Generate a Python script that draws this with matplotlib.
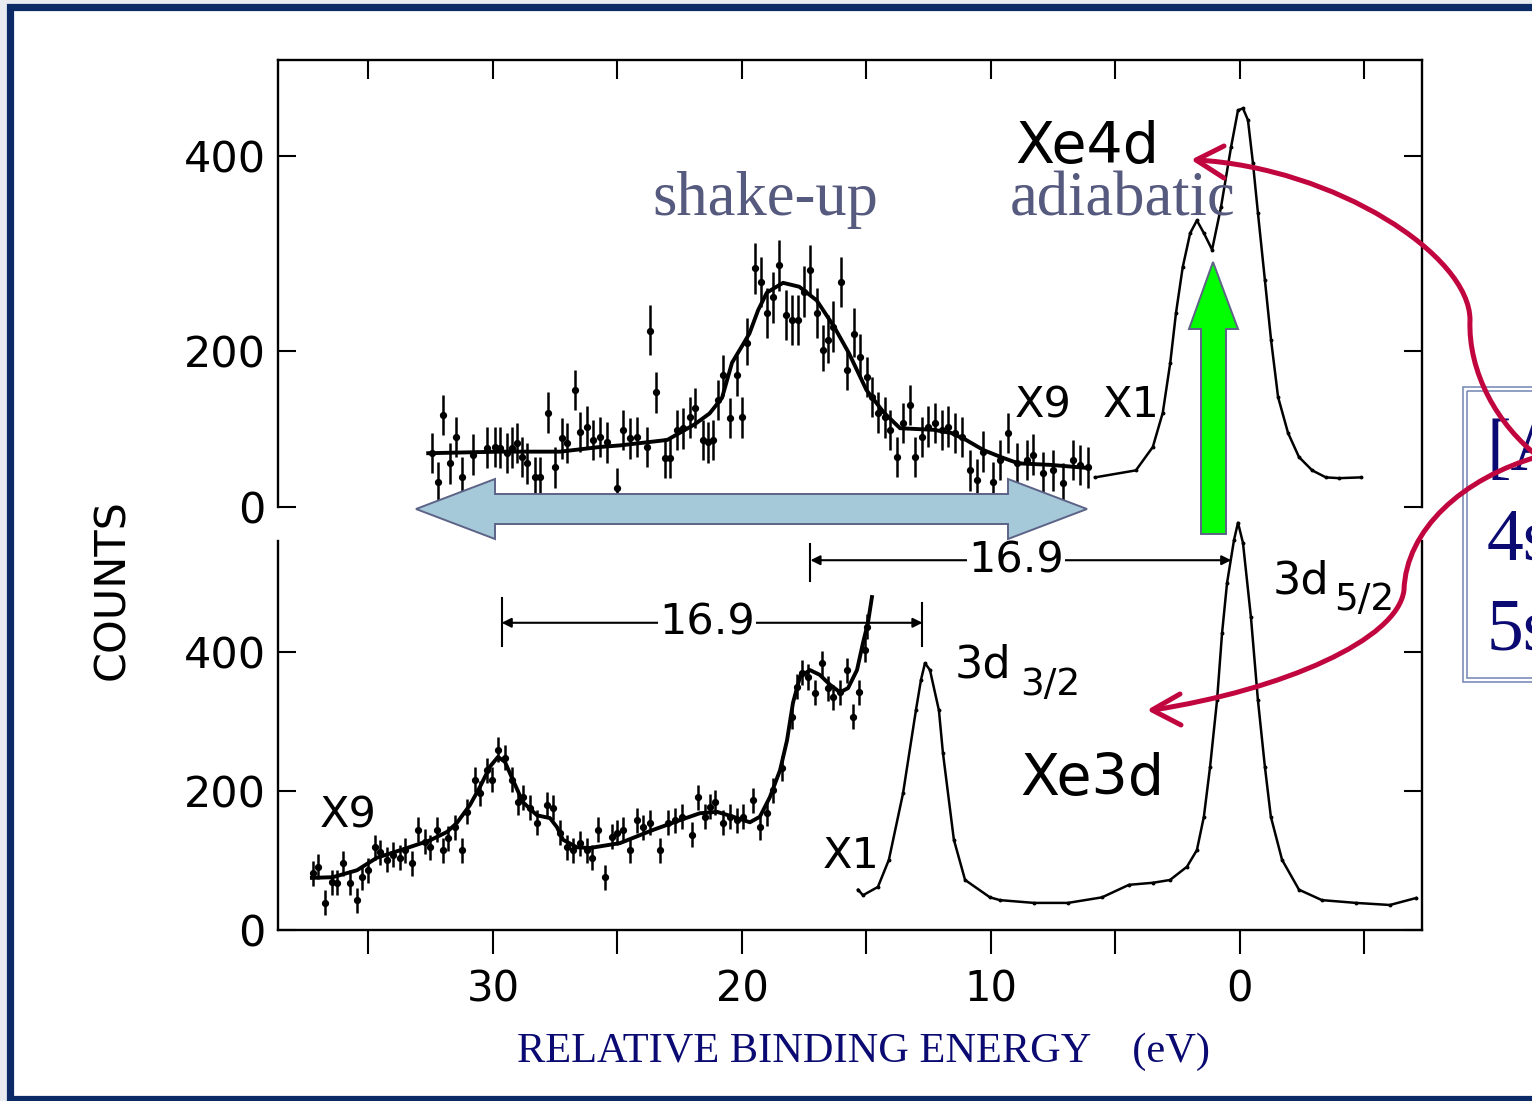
import numpy as np
import matplotlib.pyplot as plt
from matplotlib.patches import Rectangle, Polygon, PathPatch
from matplotlib.path import Path
from matplotlib.transforms import Affine2D

plt.rcParams['font.family'] = ['DejaVu Sans']

W, H = 1532, 1101

# ---------------- Xe 4d (upper panel) ----------------
# shake-up region, scaled x9, with error bars
xe4_sat_ev = [32.45, 32.21, 32.01, 31.73, 31.49, 31.24, 30.80, 30.24, 29.92, 29.72,
              29.44, 29.24, 29.04, 28.84, 28.63, 28.31, 28.11, 27.79, 27.51, 27.23,
              27.03, 26.71, 26.51, 26.22, 25.98, 25.70, 25.42, 25.02, 24.78, 24.50,
              24.22, 23.82, 23.69, 23.45, 23.09, 22.89, 22.61, 22.37, 22.09, 21.89,
              21.57, 21.37, 21.16, 20.96, 20.76, 20.48, 20.20, 20.00, 19.80, 19.48,
              19.24, 19.00, 18.76, 18.51, 18.23, 17.99, 17.75, 17.51, 17.27, 16.99,
              16.75, 16.55, 16.35, 16.02, 15.78, 15.50, 15.26, 14.98, 14.78, 14.54,
              14.26, 14.06, 13.78, 13.53, 13.25, 13.05, 12.77, 12.53, 12.25, 11.97,
              11.73, 11.45, 11.16, 10.84, 10.56, 10.32, 9.92, 9.64, 9.32, 8.96,
              8.55, 8.31, 7.91, 7.51, 7.11, 6.71, 6.43, 6.10]
xe4_sat_counts = [69, 32, 118, 56, 90, 38, 67, 76, 77, 76,
                  69, 76, 82, 64, 56, 38, 38, 121, 51, 88,
                  82, 150, 96, 103, 86, 90, 83, 24, 99, 88,
                  90, 77, 221, 147, 63, 63, 99, 101, 115, 127,
                  86, 83, 86, 137, 169, 114, 169, 115, 208, 285,
                  271, 239, 255, 288, 237, 232, 232, 261, 283, 239,
                  201, 211, 225, 271, 176, 218, 192, 167, 141, 121,
                  115, 99, 64, 108, 131, 64, 90, 103, 108, 99,
                  103, 95, 90, 47, 35, 71, 32, 60, 95, 56,
                  60, 67, 44, 47, 31, 60, 54, 51]
xe4_fit_ev = [32.6, 29.7, 27.3, 25.7, 24.9, 23.0, 21.9, 21.3, 20.8, 20.4, 20.0, 19.7,
              19.35, 19.0, 18.35, 17.7, 17.0, 16.3, 15.7, 15.0, 14.3, 13.65, 12.3,
              11.6, 11.0, 10.3, 9.6, 8.9, 7.6, 6.1]
xe4_fit_counts = [69, 71, 71, 77, 79, 86, 106, 120, 140, 185, 205, 218,
                  242, 260, 270, 266, 252, 225, 197, 150, 121, 101, 99,
                  95, 86, 73, 64, 56, 54, 50]
# main 4d5/2, 4d3/2 lines, x1
xe4_main_ev = [5.82, 4.18, 3.5, 3.1, 2.8, 2.57, 2.3, 2.0, 1.73, 1.45, 1.12, 0.76, 0.36,
               0.08, -0.12, -0.32, -0.52, -0.72, -1.0, -1.25, -1.53, -1.93, -2.37,
               -2.9, -3.45, -3.98, -4.86]
xe4_main_counts = [38, 47, 77, 121, 185, 239, 286, 321, 334, 321, 304, 348, 409,
                   447, 449, 437, 393, 342, 273, 211, 141, 95, 64,
                   47, 38, 37, 38]

# ---------------- Xe 3d (lower panel) ----------------
xe3_sat_ev = [37.23, 37.03, 36.75, 36.47, 36.27, 36.02, 35.74, 35.46, 35.26, 35.02,
              34.74, 34.54, 34.26, 34.02, 33.73, 33.53, 33.25, 33.01, 32.73, 32.53,
              32.25, 32.01, 31.81, 31.53, 31.24, 31.04, 30.72, 30.52, 30.24, 30.04,
              29.80, 29.52, 29.24, 29.00, 28.80, 28.51, 28.23, 27.83, 27.59, 27.31,
              27.03, 26.79, 26.51, 26.22, 26.02, 25.78, 25.50, 25.22, 25.02, 24.78,
              24.50, 24.22, 23.98, 23.69, 23.29, 22.97, 22.69, 22.41, 22.01, 21.77,
              21.49, 21.29, 21.08, 20.76, 20.48, 20.20, 19.96, 19.56, 19.28, 19.00,
              18.76, 18.39, 17.99, 17.79, 17.59, 17.35, 17.07, 16.79, 16.55, 16.35,
              16.06, 15.78, 15.54, 15.30, 15.06, 14.98]
xe3_sat_counts = [82, 91, 39, 69, 68, 96, 68, 43, 76, 86,
                  119, 112, 101, 108, 104, 115, 96, 144, 127, 119,
                  144, 115, 132, 148, 115, 170, 216, 197, 230, 216,
                  259, 248, 216, 184, 191, 176, 154, 180, 176, 140,
                  119, 115, 125, 115, 104, 144, 76, 134, 140, 144,
                  115, 158, 148, 154, 115, 154, 158, 163, 137, 191,
                  163, 177, 184, 154, 163, 158, 163, 187, 148, 168,
                  201, 233, 307, 350, 370, 364, 341, 384, 348, 335,
                  342, 374, 307, 342, 403, 436]
xe3_fit_ev = [37.27, 36.43, 35.46, 34.66, 33.45, 32.53, 31.85, 31.45, 30.92, 30.52,
              30.12, 29.80, 29.52, 29.20, 28.80, 28.23, 27.71, 27.43, 27.19, 26.63,
              26.10, 25.42, 24.90, 23.57, 22.49, 21.69, 21.00, 20.36, 19.68, 19.28,
              18.88, 18.47, 18.19, 17.95, 17.67, 17.27, 16.87, 16.47, 16.06, 15.74,
              15.38, 15.14, 14.94, 14.78]
xe3_fit_counts = [75, 76, 86, 104, 118, 129, 141, 154, 180, 206,
                  235, 249, 242, 216, 184, 165, 161, 148, 130, 119,
                  118, 122, 125, 144, 158, 168, 170, 163, 155, 163,
                  191, 230, 273, 327, 364, 374, 367, 353, 342, 348,
                  374, 413, 442, 479]
xe3_main_ev = [15.34, 15.14, 14.54, 14.10, 13.53, 13.01, 12.81, 12.65, 12.45, 12.09,
               11.93, 11.49, 11.04, 10.04, 9.64, 8.27, 6.91, 5.54, 4.46, 3.49, 2.81,
               2.13, 1.73, 1.45, 1.20, 0.92, 0.72, 0.52, 0.24, 0.08, -0.12, -0.44,
               -0.72, -1.00, -1.24, -1.69, -2.37, -3.29, -4.66, -6.02, -7.07]
xe3_main_counts = [58, 50, 62, 101, 197, 317, 360, 384, 374, 316,
                   255, 130, 72, 47, 43, 39, 39, 47, 65, 68, 72,
                   91, 115, 163, 235, 331, 427, 499, 561, 586, 557, 450,
                   331, 235, 163, 101, 58, 43, 39, 36, 46]

count_ticks = [0, 200, 400]
energy_ticks = [35, 30, 25, 20, 15, 10, 5, 0, -5]
energy_labels = ['', '30', '', '20', '', '10', '', '0', '']
split_4d = 16.9
split_3d = 16.9

SERIF = ['Liberation Serif', 'DejaVu Serif']
NAVY = '#0a0a72'
SLATE = '#565a7e'
CRIMSON = '#c1063f'
EDGE = '#5d6387'


# upper panel counts axis is not uniform between 0-200 and 200-400
def squash(c):
    c = np.asarray(c, dtype=float)
    return np.where(c < 200, 0.78 * c, 156 + 0.975 * (c - 200))


def unsquash(h):
    h = np.asarray(h, dtype=float)
    return np.where(h < 156, h / 0.78, 200 + (h - 156) / 0.975)


fig = plt.figure(figsize=(W / 100, H / 100), dpi=100, facecolor='#e8ecf1')
# pixel coordinates, origin top-left, for the slide decorations
px = Affine2D().scale(1 / W, -1 / H).translate(0, 1) + fig.transFigure

# slide frame
fig.add_artist(Rectangle((10, 6.5), 1600, 1092, transform=px, fc='white',
                         ec='#0c2a66', lw=5.2, zorder=-5))

ax4 = fig.add_axes([0.1815, 0.5395, 0.7467, 0.4060])
ax3 = fig.add_axes([0.1815, 0.1553, 0.7467, 0.3788])

for ax in (ax4, ax3):
    ax.set_facecolor('none')
    ax.set_xlim(38.63, -7.31)
    ax.set_xticks(energy_ticks)
    ax.set_yticks(count_ticks)
    for s in ax.spines.values():
        s.set_linewidth(1.7)
    ax.tick_params(axis='y', direction='in', left=True, right=True, length=13,
                   width=1.5, labelsize=31, pad=9)

pts_kw = dict(fmt='o', ms=4.2, color='k', elinewidth=1.8, capsize=0)

# upper panel
ax4.set_yscale('function', functions=(squash, unsquash))
ax4.set_ylim(0, 498.6)
ax4.set_yticks(count_ticks)
ax4.spines['bottom'].set_visible(False)
ax4.tick_params(axis='x', direction='in', top=True, bottom=False, labelbottom=False,
                labeltop=False, length=14, width=1.5)
ax4.errorbar(xe4_sat_ev, xe4_sat_counts, yerr=26, **pts_kw)
ax4.plot(xe4_fit_ev, xe4_fit_counts, color='k', lw=2.8)
ax4.plot(xe4_main_ev, xe4_main_counts, color='k', lw=1.8, marker='o', ms=1.8)

# lower panel
ax3.set_ylim(0, 600)
ax3.spines['top'].set_visible(False)
ax3.spines['left'].set_bounds(0, 560)
ax3.spines['right'].set_bounds(0, 560)
ax3.set_xticks(energy_ticks, energy_labels)
ax3.tick_params(axis='x', direction='out', top=False, bottom=True, length=17,
                width=1.5, labelsize=30, pad=11)
ax3.errorbar(xe3_sat_ev, xe3_sat_counts, yerr=18, **pts_kw)
ax3.plot(xe3_fit_ev, xe3_fit_counts, color='k', lw=2.8)
ax3.plot(xe3_main_ev, xe3_main_counts, color='k', lw=1.8, marker='o', ms=1.8)

# 16.9 eV spacing markers
arrow_kw = dict(arrowstyle='<|-|>', color='k', lw=1.5, mutation_scale=14,
                shrinkA=0, shrinkB=0)
x0 = 0.35
ax3.annotate('', xy=(x0, 532), xytext=(x0 + split_4d, 532), arrowprops=arrow_kw,
             annotation_clip=False)
ax3.plot([x0 + split_4d] * 2, [502, 556], color='k', lw=1.5, clip_on=False)
ax3.text(9.0, 532, f'{split_4d}', ha='center', va='center', fontsize=31,
         bbox=dict(fc='white', ec='none', pad=1))

x1 = 12.75
ax3.annotate('', xy=(x1 + split_3d, 442), xytext=(x1, 442), arrowprops=arrow_kw)
ax3.plot([x1 + split_3d] * 2, [408, 477], color='k', lw=1.5)
ax3.plot([x1] * 2, [408, 470], color='k', lw=1.5)
ax3.text(21.4, 442, f'{split_3d}', ha='center', va='center', fontsize=31,
         bbox=dict(fc='white', ec='none', pad=1))

# panel labels
fig.text(1015, 163, 'Xe4d', transform=px, fontsize=41)
fig.text(1020, 795, 'Xe3d', transform=px, fontsize=41)
fig.text(1015, 417, 'X9', transform=px, fontsize=31)
fig.text(1103, 417, 'X1', transform=px, fontsize=31)
fig.text(320, 827, 'X9', transform=px, fontsize=31)
fig.text(823, 868, 'X1', transform=px, fontsize=31)
fig.text(1273, 593, '3d', transform=px, fontsize=32)
fig.text(1334, 610, '5/2', transform=px, fontsize=27)
fig.text(955, 677, '3d', transform=px, fontsize=32)
fig.text(1020, 695, '3/2', transform=px, fontsize=27)
fig.text(112, 590, 'COUNTS', transform=px, fontsize=31, rotation=90,
         ha='center', va='center')
fig.text(517, 1062, 'RELATIVE BINDING ENERGY    (eV)', transform=px,
         family=SERIF, fontsize=30.5, color=NAVY)
fig.text(652, 215, 'shake-up', transform=px, family=SERIF, fontsize=45, color=SLATE)
fig.text(1010, 215, 'adiabatic', transform=px, family=SERIF, fontsize=45,
         color=SLATE, zorder=6)

# shake-up range and adiabatic arrow
fig.add_artist(Polygon([(416, 509), (495, 479), (495, 494), (1008, 494), (1008, 479),
                        (1087, 509), (1008, 539), (1008, 524), (495, 524), (495, 539)],
                       closed=True, transform=px, fc='#a6c9d9', ec=EDGE, lw=1.4,
                       zorder=5))
fig.add_artist(Polygon([(1213, 262), (1238, 329), (1226, 329), (1226, 534),
                        (1201, 534), (1201, 329), (1189, 329)],
                       closed=True, transform=px, fc='#00ff00', ec=EDGE, lw=1.4,
                       zorder=5))

# configuration box at the right edge
fig.add_artist(Rectangle((1463, 387), 120, 295, transform=px, fc='white',
                         ec='#7b8db8', lw=1.2, zorder=4))
fig.add_artist(Rectangle((1467, 391), 120, 287, transform=px, fc='none',
                         ec='#7b8db8', lw=1.2, zorder=4))
for yb, line in zip([470, 560, 650], ['[Ar]3d¹⁰', '4s²4p⁶4d¹⁰', '5s²5p⁶']):
    fig.text(1487, yb, line, transform=px, family=SERIF, fontsize=53, color=NAVY,
             zorder=4.5)

# curved pointers from the box
C4 = Path.CURVE4
curves = [
    Path([(1540, 458), (1497, 425), (1468, 372), (1470, 320),
          (1470, 255), (1335, 168), (1197, 160)],
         [Path.MOVETO, C4, C4, C4, C4, C4, C4]),
    Path([(1540, 456), (1462, 478), (1406, 530), (1404, 590),
          (1398, 640), (1282, 690), (1153, 710)],
         [Path.MOVETO, C4, C4, C4, C4, C4, C4]),
    Path([(1224, 146), (1196, 160), (1224, 178)],
         [Path.MOVETO, Path.LINETO, Path.LINETO]),
    Path([(1180, 694), (1152, 710), (1181, 725)],
         [Path.MOVETO, Path.LINETO, Path.LINETO]),
]
for p in curves:
    fig.add_artist(PathPatch(p, transform=px, fc='none', ec=CRIMSON, lw=3.6,
                             capstyle='round', joinstyle='round', zorder=7))

fig.savefig('out.png', dpi=100, facecolor=fig.get_facecolor())
